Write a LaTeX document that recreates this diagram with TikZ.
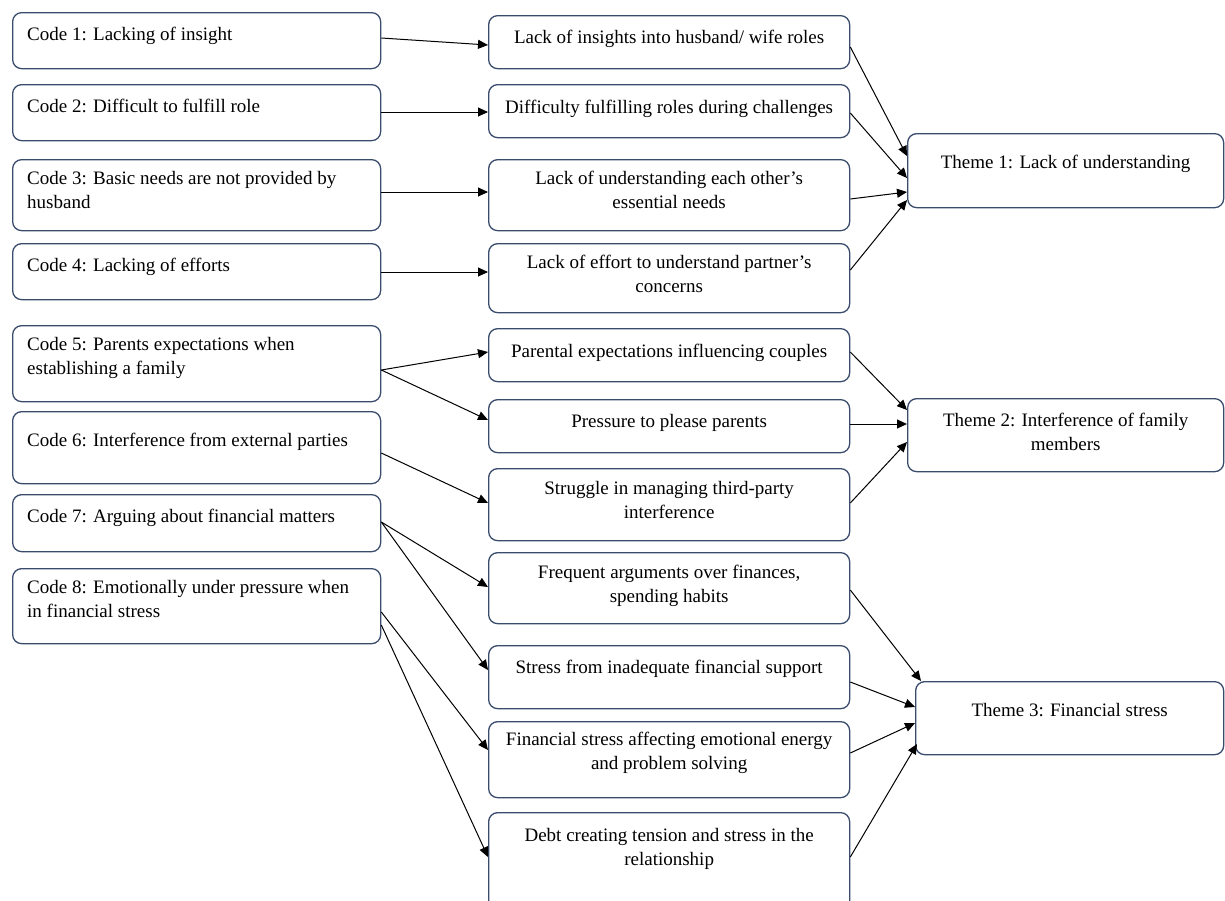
\documentclass[tikz,border=0pt]{standalone}
\usepackage{fontspec}
\setmainfont{Liberation Serif}
\usetikzlibrary{arrows.meta,calc}
\definecolor{bordercol}{RGB}{58,76,108}
\newcommand\mainfs{\fontsize{19pt}{24pt}\selectfont}
\newcommand\mkbox[5]{\node[box,minimum width={(#4)-(#2)},minimum height={(#5)-(#3)}] (#1) at (#2,#3) {};}
\newcommand\ltx[4]{\node[ltext] (#1) at ($(#2.north west)+(15,#3)$) {#4};}
\newcommand\ctx[4]{\node[ctext] (#1) at ($(#2.north)+(0,#3)$) {#4};}
\tikzset{
  box/.style={draw=bordercol, line width=1.3pt, rounded corners=9pt, inner sep=0pt, anchor=north west},
  ltext/.style={anchor=north west, inner sep=0pt, align=left, font=\mainfs, execute at begin node=\strut},
  ctext/.style={anchor=north, inner sep=0pt, align=center, font=\mainfs, execute at begin node=\strut},
  arr/.style={draw=black, line width=1pt, -{Triangle[length=10pt,width=9pt]}}
}
\begin{document}
\begin{tikzpicture}[x=1pt,y=-1pt]
\useasboundingbox (0,0) rectangle (1225,900);
% code boxes
\mkbox{c1}{12}{12}{380}{68}
\mkbox{c2}{12}{84}{380}{140}
\mkbox{c3}{12}{159}{380}{230}
\mkbox{c4}{12}{243}{380}{299}
\mkbox{c5}{12}{325}{380}{401}
\mkbox{c6}{12}{411}{380}{483}
\mkbox{c7}{12}{494}{380}{551}
\mkbox{c8}{12}{568}{380}{643}
% middle boxes
\mkbox{m1}{488}{15}{849}{68}
\mkbox{m2}{488}{84}{849}{137}
\mkbox{m3}{488}{159}{849}{230}
\mkbox{m4}{488}{243}{849}{312}
\mkbox{m5}{488}{328}{849}{381}
\mkbox{m6}{488}{399}{849}{452}
\mkbox{m7}{488}{468}{849}{540}
\mkbox{m8}{488}{552}{849}{623}
\mkbox{m9}{488}{645}{849}{708}
\mkbox{m10}{488}{721}{849}{797}
\mkbox{m11}{488}{812}{849}{912}
% theme boxes
\mkbox{t1}{907}{133}{1223}{207}
\mkbox{t2}{907}{398}{1223}{471}
\mkbox{t3}{915}{681}{1223}{754}
% texts
\ltx{c1t}{c1}{11.7}{Code 1: Lacking of insight}
\ltx{c2t}{c2}{11.7}{Code 2: Difficult to fulfill role}
\ltx{c3t}{c3}{11.7}{Code 3: Basic needs are not provided by\\husband}
\ltx{c4t}{c4}{11.7}{Code 4: Lacking of efforts}
\ltx{c5t}{c5}{12.5}{Code 5: Parents expectations when\\establishing a family}
\ltx{c6t}{c6}{18.5}{Code 6: Interference from external parties}
\ltx{c7t}{c7}{11.2}{Code 7: Arguing about financial matters}
\ltx{c8t}{c8}{12.5}{Code 8: Emotionally under pressure when\\in financial stress}
\ctx{m1t}{m1}{11}{Lack of insights into husband/ wife roles}
\ctx{m2t}{m2}{12}{Difficulty fulfilling roles during challenges}
\ctx{m3t}{m3}{12}{Lack of understanding each other’s\\essential needs}
\ctx{m4t}{m4}{12}{Lack of effort to understand partner’s\\concerns}
\ctx{m5t}{m5}{12}{Parental expectations influencing couples}
\ctx{m6t}{m6}{11.5}{Pressure to please parents}
\ctx{m7t}{m7}{13}{Struggle in managing third-party\\interference}
\ctx{m8t}{m8}{13}{Frequent arguments over finances,\\spending habits}
\ctx{m9t}{m9}{11}{Stress from inadequate financial support}
\ctx{m10t}{m10}{10.5}{Financial stress affecting emotional energy\\and problem solving}
\ctx{m11t}{m11}{16}{Debt creating tension and stress in the\\relationship}
\ctx{t1t}{t1}{18}{Theme 1: Lack of understanding}
\ctx{t2t}{t2}{15.2}{Theme 2: Interference of family\\members}
\ctx{t3t}{t3}{18}{Theme 3: Financial stress}
% code -> middle
\draw[arr] ($(c1.north east)+(0,26)$) -- ($(m1.north west)+(0,30)$);
\draw[arr] ($(c2.north east)+(0,28)$) -- ($(m2.north west)+(0,28)$);
\draw[arr] ($(c3.north east)+(0,33)$) -- ($(m3.north west)+(0,33)$);
\draw[arr] ($(c4.north east)+(0,29)$) -- ($(m4.north west)+(0,29)$);
\draw[arr] ($(c5.north east)+(0,45)$) -- ($(m5.north west)+(0,24)$);
\draw[arr] ($(c5.north east)+(0,45)$) -- ($(m6.north west)+(0,21)$);
\draw[arr] ($(c6.north east)+(0,42)$) -- ($(m7.north west)+(0,35)$);
\draw[arr] ($(c7.north east)+(0,28)$) -- ($(m8.north west)+(0,35)$);
\draw[arr] ($(c7.north east)+(0,28)$) -- ($(m9.north west)+(0,25)$);
\draw[arr] ($(c8.north east)+(0,44)$) -- ($(m10.north west)+(0,29)$);
\draw[arr] ($(c8.north east)+(0,57)$) -- ($(m11.north west)+(0,45)$);
% middle -> themes
\draw[arr] ($(m1.north east)+(0,32)$) -- ($(t1.north west)+(0,23)$);
\draw[arr] ($(m2.north east)+(0,29)$) -- ($(t1.north west)+(0,45)$);
\draw[arr] ($(m3.north east)+(0,40)$) -- ($(t1.north west)+(0,59)$);
\draw[arr] ($(m4.north east)+(0,27)$) -- ($(t1.north west)+(0,67)$);
\draw[arr] ($(m5.north east)+(0,24)$) -- ($(t2.north west)+(0,12)$);
\draw[arr] ($(m6.north east)+(0,25)$) -- ($(t2.north west)+(0,26)$);
\draw[arr] ($(m7.north east)+(0,35)$) -- ($(t2.north west)+(0,44)$);
\draw[arr] ($(m8.north east)+(0,38)$) -- ($(t3.north west)+(6,0)$);
\draw[arr] ($(m9.north east)+(0,37)$) -- ($(t3.north west)+(0,26)$);
\draw[arr] ($(m10.north east)+(0,32)$) -- ($(t3.north west)+(0,42)$);
\draw[arr] ($(m11.north east)+(0,45)$) -- ($(t3.north west)+(2,63)$);
\end{tikzpicture}
\end{document}
